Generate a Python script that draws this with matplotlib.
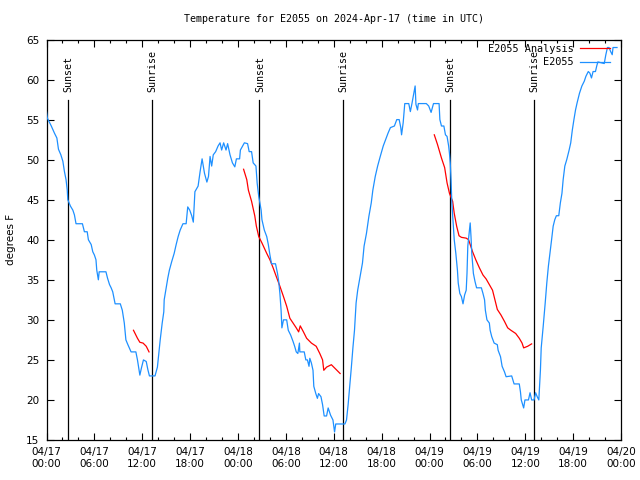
import numpy as np
import matplotlib
matplotlib.use("Agg")
import matplotlib.pyplot as plt

# hours since 2024-04-17 00:00 UTC
blue_h = [0.0,0.1,0.6,1.0,1.3,1.5,1.8,2.05,2.25,2.45,2.6,2.67,3.0,3.3,3.5,3.7,4.5,4.75,5.1,5.25,5.6,5.8,6.0,6.2,6.3,6.5,6.6,7.45,7.65,7.9,8.1,8.3,8.6,9.25,9.5,9.75,9.95,10.2,10.6,11.2,11.4,11.7,11.9,12.15,12.5,12.7,12.9,13.6,13.9,14.1,14.25,14.5,14.7,14.75,15.0,15.2,15.4,15.7,16.0,16.25,16.5,16.75,17.1,17.5,17.7,17.95,18.2,18.4,18.6,19.0,19.25,19.5,19.8,20.1,20.3,20.5,20.7,20.9,21.2,21.5,21.75,21.95,22.2,22.5,22.7,23.0,23.3,23.6,23.8,24.2,24.3,24.8,25.2,25.4,25.7,25.9,26.25,26.4,26.6,26.9,27.0,27.3,27.6,27.8,28.0,28.2,28.7,28.95,29.1,29.25,29.4,29.5,29.7,30.1,30.3,30.6,30.9,31.1,31.3,31.5,31.7,31.75,32.3,32.5,32.7,32.9,33.0,33.2,33.4,33.5,33.75,33.95,34.1,34.4,34.6,34.8,35.1,35.3,35.6,35.9,36.1,36.25,37.4,37.6,37.8,38.0,38.2,38.4,38.6,38.8,39.0,39.3,39.6,39.8,40.1,40.4,40.7,40.9,41.2,41.5,41.8,42.2,42.5,42.8,43.1,43.6,43.9,44.2,44.4,44.5,44.7,44.9,45.4,45.6,45.8,46.0,46.2,46.3,46.5,46.6,47.6,47.9,48.2,48.5,49.2,49.3,49.5,49.8,50.0,50.2,50.4,50.5,50.6,50.7,50.8,50.96,51.1,51.3,51.5,51.6,51.8,52.0,52.2,52.4,52.6,52.7,52.8,53.0,53.1,53.2,53.3,53.5,53.7,53.9,54.5,54.7,54.9,55.0,55.2,55.5,55.6,55.8,56.1,56.5,56.6,56.9,57.1,57.4,57.6,58.3,58.6,59.25,59.4,59.5,59.8,59.96,60.4,60.6,60.8,61.1,61.3,61.5,61.7,61.9,62.0,62.25,62.5,62.7,62.9,63.1,63.3,63.5,63.7,63.9,64.2,64.4,64.6,64.75,64.96,65.2,65.5,65.7,65.9,66.1,66.3,66.5,66.8,67.1,67.4,67.6,67.9,68.1,68.3,68.5,68.8,68.96,69.1,69.9,70.1,70.3,70.5,70.7,70.9,71.0,71.5]
blue_t = [56,55.2,54.2,53.3,52.7,51.3,50.6,49.8,48.5,47.5,46.2,45,44.2,43.7,43.1,42,42,41,41,40,39.4,38.5,38.1,37.5,36.2,35,36,36,35.2,34.4,34,33.5,32,32,31.2,29.6,27.5,26.9,26,26,25,23.1,24,25,24.8,23.8,23,23,24.1,26,27.5,29.6,31,32.5,34,35.2,36.2,37.3,38.3,39.4,40.4,41.2,42,42,44.1,43.7,43,42.2,46,46.7,48.5,50.1,48.3,47.2,47.9,50.4,49.2,50.6,51,51.7,52.1,51.2,52.1,51.2,52,50.6,49.6,49.1,50.1,50.1,51.2,52.1,52,51,51,49.6,49.2,47.1,45.4,43.7,42.5,41.2,40.4,39.4,38.1,37,37,35.8,34.8,33.3,31.2,29,30,30,28.7,28.1,27.3,26.7,26,25.8,27.1,26,26,25,25,24.2,25.2,24.6,23.7,21.7,20.8,20.2,20.8,20.4,19.4,18,18,19,18.1,17.5,16,17,17,17.5,19.4,21.7,24,26.5,28.7,32.1,33.7,35.4,37.1,39.2,40.8,42.9,44.6,46.2,47.9,49.2,50.3,51.7,52.5,53.3,54,54.2,55,55,54,53.1,54.6,57,57,56,57,58.1,59.2,56.9,56.2,57,57,56.7,55.9,57,57,55,54.2,54.2,53.1,52.9,51.7,50.8,49.6,47.5,44.6,42.1,40,38.3,36.2,34.6,33.3,32.9,32,33.1,33.7,35.8,39.2,41.2,42.1,40.4,38.3,35.8,34.8,34,34,33.3,32.5,31.2,30,29.6,28.7,27.9,27.1,26.9,26.2,25.4,24.2,23.5,22.9,23,22,22,21,20,19,20,20,20.9,20,20,20.9,20.4,20,23.7,26.5,29.2,32.1,34.6,36.7,38.3,40,41.7,42.5,43,43,44.6,45.8,47.5,49.2,50,51.2,52.1,53.7,55,56.2,57.1,58.3,59.2,59.8,60.4,61,60.8,60.2,61,61,61.7,62.2,62,63.1,64,64,63.5,63.1,64,64]

red_h = [10.9,11.2,11.4,11.7,12.1,12.5,12.85, np.nan,
         24.7,25.1,25.3,25.7,26.1,26.3,26.6,27.0,27.6,28.0,28.4,28.8,29.25,29.7,30.1,30.5,30.9,31.3,31.6,31.8,32.2,32.6,33.2,33.8,34.25,34.6,34.75,35.1,35.7,36.3,36.8, np.nan,
         48.6,49.0,49.5,49.9,50.2,50.5,50.9,51.1,51.4,51.7,52.0,52.6,52.9,53.1,53.4,53.8,54.25,54.7,55.1,55.5,55.9,56.2,56.5,56.96,57.4,57.8,58.2,58.8,59.25,59.6,59.8,60.3,60.8]
red_t = [28.7,28.1,27.7,27.2,27.1,26.7,26.0, np.nan,
         48.8,47.5,46.2,44.8,43.0,41.7,40.4,39.6,38.3,37.5,36.5,35.4,34.2,32.9,31.7,30.2,29.6,29.0,28.5,29.25,28.5,27.7,27.1,26.7,25.8,25.0,23.7,24.1,24.4,23.8,23.3, np.nan,
         53.1,51.9,50.2,49.0,47.1,45.8,44.8,43.3,41.7,40.5,40.3,40.2,40.0,39.4,38.5,37.5,36.5,35.6,35.1,34.4,33.7,32.5,31.3,30.6,29.8,29.0,28.7,28.3,27.7,27.1,26.5,26.7,27.0]

sun_events = ["Sunset", "Sunrise", "Sunset", "Sunrise", "Sunset", "Sunrise"]
sun_hours = [2.66, 13.16, 26.66, 37.16, 50.54, 61.04]

tick_hours = [0, 6, 12, 18, 24, 30, 36, 42, 48, 54, 60, 66, 72]
tick_labels = ["04/17\n00:00", "04/17\n06:00", "04/17\n12:00", "04/17\n18:00",
               "04/18\n00:00", "04/18\n06:00", "04/18\n12:00", "04/18\n18:00",
               "04/19\n00:00", "04/19\n06:00", "04/19\n12:00", "04/19\n18:00",
               "04/20\n00:00"]
y_ticks = [15, 20, 25, 30, 35, 40, 45, 50, 55, 60, 65]

mono = "DejaVu Sans Mono"

fig = plt.figure(figsize=(6.4, 4.8), dpi=100)
ax = fig.add_axes([46.5/640, 1-440/480, (621-46.5)/640, (440-39.5)/480])

ax.plot(red_h, red_t, color="#ff0000", lw=0.9, label="E2055 Analysis", zorder=3)
ax.plot(blue_h, blue_t, color="#1e90ff", lw=0.9, label="E2055", zorder=3)

for h, name in zip(sun_hours, sun_events):
    ax.plot([h, h], [15, 57.5], color="black", lw=0.9, zorder=2)
    ax.text(h + 0.1, 58.5, name, rotation=90, ha="center", va="bottom",
            fontsize=7.2, family=mono)

ax.set_xlim(0, 72)
ax.set_ylim(15, 65)
ax.set_xticks(tick_hours)
ax.set_xticklabels(tick_labels)
ax.set_xticks(np.arange(0, 73, 2), minor=True)
ax.set_yticks(y_ticks)
ax.tick_params(axis="both", which="major", direction="in", length=5, width=0.8,
               top=True, right=True, labelsize=7.5, pad=5)
ax.tick_params(axis="x", which="minor", direction="in", length=2.5, width=0.8, top=True)
ax.tick_params(axis="y", which="minor", left=False, right=False)
for s in ax.spines.values():
    s.set_linewidth(0.9)

ax.set_ylabel("degrees F", fontsize=7.5)
ax.yaxis.set_label_coords(-(46.5-16)/574.5, 0.5)

fig.text(333.75/640, 1-19/480, "Temperature for E2055 on 2024-Apr-17 (time in UTC)",
         ha="center", va="center", fontsize=7.2, family=mono)

leg = ax.legend(loc="upper right", frameon=False, markerfirst=False,
                prop={"family": mono, "size": 7.4}, handlelength=2.9,
                handletextpad=0.6, labelspacing=0.3, borderaxespad=0.0,
                borderpad=0.2,
                bbox_to_anchor=((612-46.5)/574.5, (440-42)/400.5))

fig.savefig("out.png", dpi=100)
